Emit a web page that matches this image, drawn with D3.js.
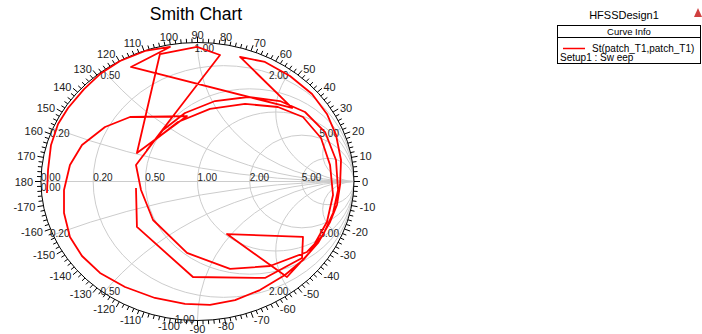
<!DOCTYPE html>
<html>
<head>
<meta charset="utf-8">
<script src="https://cdn.jsdelivr.net/npm/d3@7"></script>
<style>
  html, body { margin: 0; padding: 0; background: #fff; }
  svg { display: block; font-family: "Liberation Sans", Arial, sans-serif; }
</style>
</head>
<body>
<svg id="chart" width="702" height="334"></svg>
<script>
// Reflection coefficient of the sweep (real / imaginary parts)
const gammaRe = [-0.962,-0.955,-0.936,-0.891,-0.827,-0.725,-0.623,-0.495,-0.335,-0.176,
  -0.425,0.604,0.272,0.431,0.591,0.732,0.827,0.885,0.917,0.911,
  0.891,0.847,0.770,0.674,0.559,0.399,0.240,0.080,-0.080,-0.272,
  -0.463,-0.623,-0.738,-0.815,-0.853,-0.853,-0.815,-0.738,-0.591,-0.431,
  -0.067,-0.387,-0.240,-0.003,0.144,-0.323,-0.220,-0.080,0.112,0.323,
  0.527,0.687,0.815,0.885,0.898,0.866,0.802,0.700,0.463,0.208,
  -0.067,-0.284,-0.361,-0.393,-0.272,-0.125,0.080,0.304,0.514,0.674,
  0.789,0.847,0.866,0.827,0.719,0.572,0.188,0.674,0.668,0.431,
  -0.029,-0.387,-0.393];
const gammaIm = [-0.083,0.083,0.263,0.414,0.529,0.665,0.773,0.867,0.939,0.968,
  0.824,0.529,0.896,0.860,0.759,0.629,0.486,0.335,0.155,-0.025,
  -0.169,-0.291,-0.442,-0.565,-0.673,-0.781,-0.853,-0.888,-0.881,-0.838,
  -0.759,-0.658,-0.536,-0.399,-0.227,-0.061,0.119,0.263,0.392,0.464,
  0.471,0.205,0.917,0.968,0.910,0.227,0.371,0.493,0.579,0.608,
  0.579,0.500,0.356,0.155,-0.061,-0.227,-0.385,-0.507,-0.608,-0.629,
  -0.514,-0.277,-0.061,0.119,0.299,0.428,0.522,0.558,0.536,0.464,
  0.313,0.119,-0.097,-0.291,-0.507,-0.687,-0.378,-0.399,-0.550,-0.694,
  -0.687,-0.327,-0.047];

// Smith chart grid values
const resistanceValues = [0.2, 0.5, 1, 2, 5];
const reactanceValues = [0.2, 0.5, 1, 2, 5];
const angleTicks = d3.range(-180, 180, 2);
const angleLabels = d3.range(-170, 190, 10);

const svg = d3.select("#chart");
const cx = 197.5, cy = 181.5, rx = 156.5, ry = 139;

// Gamma plane -> screen
const sx = d3.scaleLinear().domain([-1, 1]).range([cx - rx, cx + rx]);
const sy = d3.scaleLinear().domain([-1, 1]).range([cy + ry, cy - ry]);

const gridColor = "#cccccc";

// Clip grid to the unit circle
svg.append("defs").append("clipPath").attr("id", "unit")
  .append("ellipse").attr("cx", cx).attr("cy", cy).attr("rx", rx).attr("ry", ry);

const grid = svg.append("g").attr("clip-path", "url(#unit)");

// Horizontal axis
grid.append("line").attr("x1", sx(-1)).attr("x2", sx(1)).attr("y1", sy(0)).attr("y2", sy(0))
  .attr("stroke", gridColor).attr("stroke-width", 1);

// Constant resistance circles: center (r/(r+1), 0), radius 1/(r+1)
resistanceValues.forEach(r => {
  const c = r / (r + 1), rad = 1 / (r + 1);
  grid.append("ellipse")
    .attr("cx", sx(c)).attr("cy", sy(0))
    .attr("rx", sx(rad) - sx(0)).attr("ry", sy(0) - sy(rad))
    .attr("fill", "none").attr("stroke", gridColor).attr("stroke-width", 1);
});

// Constant reactance arcs: center (1, 1/x), radius 1/|x|
reactanceValues.forEach(x => {
  [x, -x].forEach(xv => {
    const rad = 1 / Math.abs(xv);
    grid.append("ellipse")
      .attr("cx", sx(1)).attr("cy", sy(1 / xv))
      .attr("rx", sx(rad) - sx(0)).attr("ry", sy(0) - sy(rad))
      .attr("fill", "none").attr("stroke", gridColor).attr("stroke-width", 1);
  });
});

// Outer ring with angle ticks
svg.append("ellipse").attr("cx", cx).attr("cy", cy).attr("rx", rx).attr("ry", ry)
  .attr("fill", "none").attr("stroke", "#000").attr("stroke-width", 1);

angleTicks.forEach(a => {
  const t = a * Math.PI / 180, major = a % 10 === 0;
  const len = major ? 6 : 4;
  const x0 = sx(Math.cos(t)), y0 = sy(Math.sin(t));
  svg.append("line")
    .attr("x1", x0).attr("y1", y0)
    .attr("x2", x0 + len * Math.cos(t)).attr("y2", y0 - len * Math.sin(t))
    .attr("stroke", "#000").attr("stroke-width", 1);
});

angleLabels.forEach(a => {
  const t = a * Math.PI / 180, c = Math.cos(t), s = Math.sin(t);
  const d = 8;
  svg.append("text")
    .attr("x", sx(c) + d * c).attr("y", sy(s) - d * s)
    .attr("text-anchor", c > 0.25 ? "start" : (c < -0.25 ? "end" : "middle"))
    .attr("dominant-baseline", "central")
    .attr("font-size", 11).attr("fill", "#222")
    .text(String(a));
});

// Resistance labels on the real axis
const fmt = d3.format(".2f");
svg.append("text").attr("x", sx(-1)).attr("y", sy(0) - 0.5)
  .attr("font-size", 10).attr("fill", "#222").text(fmt(0));
svg.append("text").attr("x", sx(-1)).attr("y", sy(0) + 9)
  .attr("font-size", 10).attr("fill", "#222").text(fmt(0));
resistanceValues.forEach(r => {
  svg.append("text").attr("x", sx((r - 1) / (r + 1))).attr("y", sy(0) - 0.5)
    .attr("font-size", 10).attr("fill", "#222").text(fmt(r));
});

// Reactance labels where each arc meets the rim
reactanceValues.forEach(x => {
  [x, -x].forEach(xv => {
    const t = Math.PI - 2 * Math.atan(xv);
    const c = Math.cos(t), s = Math.sin(t);
    const px = sx(c), py = sy(s);
    const right = c > 0.05, left = c < -0.05;
    svg.append("text")
      .attr("x", px - 3)
      .attr("y", xv > 0 ? py + 9 : py + 2)
      .attr("text-anchor", right ? "end" : (left ? "start" : (xv > 0 ? "start" : "end")))
      .attr("font-size", 10).attr("fill", "#222").text(fmt(x));
  });
});

// Sweep trace
const pts = gammaRe.map((g, i) => [sx(g), sy(gammaIm[i])]);
svg.append("path")
  .attr("d", d3.line()(pts))
  .attr("fill", "none").attr("stroke", "#ff0000").attr("stroke-width", 1.8)
  .attr("stroke-linejoin", "round");

// Title
svg.append("text").attr("x", 196).attr("y", 20).attr("text-anchor", "middle")
  .attr("font-size", 17.5).attr("fill", "#000").text("Smith Chart");

// Legend
svg.append("text").attr("x", 624).attr("y", 19).attr("text-anchor", "middle")
  .attr("font-size", 11).attr("fill", "#000").text("HFSSDesign1");
svg.append("path").attr("d", "M694,17 L698,8 L702,17 Z").attr("fill", "#d04040");
const lg = svg.append("g");
lg.append("rect").attr("x", 557.5).attr("y", 25.5).attr("width", 143).attr("height", 38)
  .attr("fill", "#fff").attr("stroke", "#000").attr("stroke-width", 1);
lg.append("line").attr("x1", 557.5).attr("x2", 700.5).attr("y1", 37.5).attr("y2", 37.5)
  .attr("stroke", "#000");
lg.append("text").attr("x", 629).attr("y", 35).attr("text-anchor", "middle")
  .attr("font-size", 9.5).attr("fill", "#000").text("Curve Info");
lg.append("line").attr("x1", 563).attr("x2", 585).attr("y1", 48.5).attr("y2", 48.5)
  .attr("stroke", "#ff0000").attr("stroke-width", 1.5);
lg.append("text").attr("x", 592).attr("y", 51.5)
  .attr("font-size", 10).attr("fill", "#000").text("St(patch_T1,patch_T1)");
lg.append("text").attr("x", 560).attr("y", 61)
  .attr("font-size", 10).attr("fill", "#000").text("Setup1 : Sw eep");
</script>
</body>
</html>
